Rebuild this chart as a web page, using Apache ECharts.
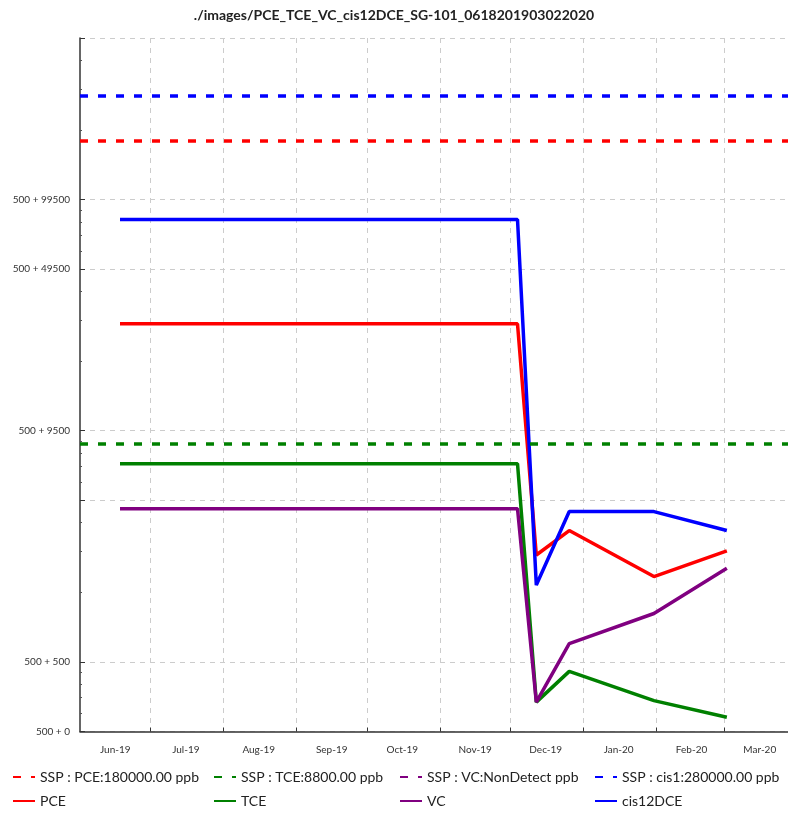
<!DOCTYPE html>
<html>
<head>
<meta charset="utf-8">
<script src="https://cdn.jsdelivr.net/npm/echarts@6/dist/echarts.min.js"></script>
<style>
html,body{margin:0;padding:0;background:#fff;}
#chart{width:788px;height:814px;}
</style>
</head>
<body>
<div id="chart"></div>
<script>
// ---- data ----
const titleText = './images/PCE_TCE_VC_cis12DCE_SG-101_0618201903022020';
const sampleDates = ['2019-06-18', '2019-12-04', '2019-12-12', '2019-12-26', '2020-01-31', '2020-03-02'];
const pceValues  = [29000, 29000, 2900, 3700, 2340, 3020];
const tceValues  = [7200, 7200, 670, 910, 680, 576];
const vcValues   = [4600, 4600, 670, 1200, 1620, 2540];
const cisValues  = [82000, 82000, 2150, 4470, 4470, 3700];

const sspPCE = 180000;
const sspTCE = 8800;
const sspCis = 280000;

const xMin = '2019-06-01';
const xMax = '2020-03-28';
const monthStarts = ['2019-07-01','2019-08-01','2019-09-01','2019-10-01','2019-11-01','2019-12-01','2020-01-01','2020-02-01','2020-03-01'];
const monthLabelDates = ['2019-06-16','2019-07-16','2019-08-16','2019-09-16','2019-10-16','2019-11-16','2019-12-16','2020-01-16','2020-02-16','2020-03-16'];
const monthLabels = ['Jun-19','Jul-19','Aug-19','Sep-19','Oct-19','Nov-19','Dec-19','Jan-20','Feb-20','Mar-20'];

const yMin = 500, yMax = 500000;
const yMajorTicks = [500, 1000, 5000, 10000, 50000, 100000, 500000];
const yLabelValues = [500, 1000, 10000, 50000, 100000];
const yMinorTicks = [600,700,800,900,2000,3000,4000,6000,7000,8000,9000,20000,30000,40000,60000,70000,80000,90000,200000,300000,400000];

const RED = '#ff0000', GREEN = '#008000', PURPLE = '#800080', BLUE = '#0000ff';
const FONT = 'Lato';

function ts(d){ return echarts.time.parse(d).getTime(); }
function pairs(vals){ return sampleDates.map((d,i)=>[ts(d), vals[i]]); }

function sspSeries(name, color, value){
  const s = {
    name, type:'line', data:[], symbol:'none',
    lineStyle:{color, width:3.5, type:[8,10]},
    itemStyle:{color},
    silent:true
  };
  if (value != null) {
    s.markLine = {
      silent:true, symbol:['none','none'], label:{show:false},
      lineStyle:{color, width:3.5, type:[8,10]},
      emphasis:{disabled:true},
      data:[{yAxis:value}]
    };
  }
  return s;
}
function dataSeries(name, color, vals){
  return {
    name, type:'line', data:pairs(vals), symbol:'none', showSymbol:false,
    lineStyle:{color, width:3.5}, itemStyle:{color}
  };
}

const legendCommon = {
  orient:'vertical', itemWidth:22, itemHeight:14, itemGap:10, padding:0,
  itemStyle:{opacity:0},
  textStyle:{fontFamily:FONT, fontSize:14, color:'#222'},
  selectedMode:false
};

const labelTs = monthLabelDates.map(ts);

const option = {
  animation:false,
  backgroundColor:'#fff',
  title:{
    text:titleText, left:'center', top:3,
    textStyle:{fontFamily:FONT, fontSize:14, fontWeight:'bold', color:'#222'}
  },
  legend:[
    Object.assign({left:12, top:770, data:['SSP : PCE:180000.00 ppb','PCE']}, legendCommon),
    Object.assign({left:213, top:770, data:['SSP : TCE:8800.00 ppb','TCE']}, legendCommon),
    Object.assign({left:399, top:770, data:['SSP : VC:NonDetect ppb','VC']}, legendCommon),
    Object.assign({left:594, top:770, data:['SSP : cis1:280000.00 ppb','cis12DCE']}, legendCommon)
  ],
  grid:{left:80, right:0, top:38, bottom:82.5, containLabel:false},
  xAxis:{
    type:'value', min:ts(xMin), max:ts(xMax), scale:true,
    axisLine:{lineStyle:{color:'#333', width:1.5}},
    axisTick:{show:true, inside:true, length:4, lineStyle:{color:'#333'}, customValues:monthStarts.map(ts)},
    axisLabel:{
      customValues:labelTs, margin:13,
      fontFamily:FONT, fontSize:10, color:'#333',
      formatter:function(v){
        for (let i=0;i<labelTs.length;i++){
          if (Math.abs(labelTs[i] - v) < 86400000) return monthLabels[i];
        }
        return '';
      }
    },
    splitLine:{show:true, lineStyle:{color:'#cccccc', type:[5,5], width:1}}
  },
  yAxis:[
    {
      type:'log', logBase:10, min:yMin, max:yMax,
      axisLine:{show:true, lineStyle:{color:'#333', width:1.5}},
      axisTick:{show:true, inside:true, length:5, lineStyle:{color:'#333'}, customValues:yMajorTicks},
      axisLabel:{
        customValues:yLabelValues, margin:10,
        fontFamily:FONT, fontSize:10, color:'#333',
        formatter:function(v){ const r = Math.round(v); return '500 + ' + (r - 500); }
      },
      splitLine:{show:true, lineStyle:{color:'#cccccc', type:[5,5], width:1}}
    },
    {
      type:'log', logBase:10, min:yMin, max:yMax, position:'left', offset:0,
      axisLine:{show:false},
      axisTick:{show:true, inside:true, length:2, lineStyle:{color:'#555'}, customValues:yMinorTicks},
      axisLabel:{show:false},
      splitLine:{show:false}
    }
  ],
  series:[
    sspSeries('SSP : PCE:180000.00 ppb', RED, sspPCE),
    sspSeries('SSP : TCE:8800.00 ppb', GREEN, sspTCE),
    sspSeries('SSP : VC:NonDetect ppb', PURPLE, null),
    sspSeries('SSP : cis1:280000.00 ppb', BLUE, sspCis),
    dataSeries('PCE', RED, pceValues),
    dataSeries('TCE', GREEN, tceValues),
    dataSeries('VC', PURPLE, vcValues),
    dataSeries('cis12DCE', BLUE, cisValues)
  ]
};

const chart = echarts.init(document.getElementById('chart'), null, {renderer:'canvas'});
chart.setOption(option);
</script>
</body>
</html>
